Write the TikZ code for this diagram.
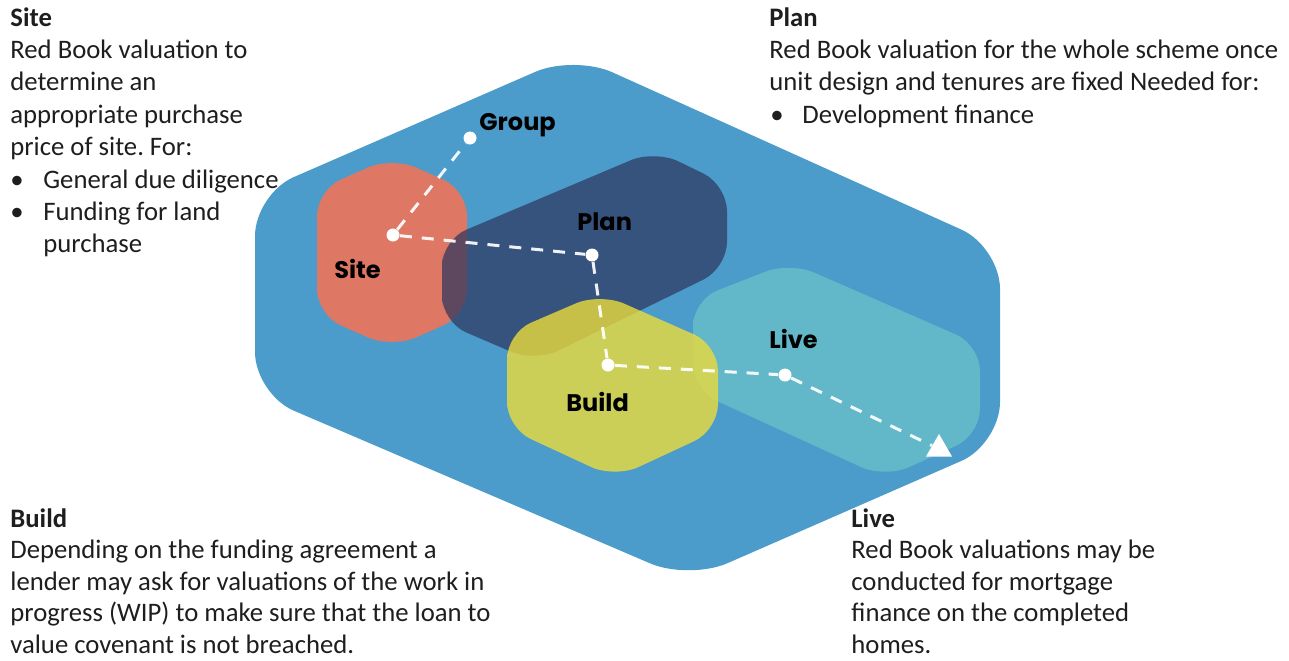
\documentclass[tikz,border=0pt]{standalone}
\usepackage{fontspec}
\setmainfont{Carlito}
\newfontfamily\lblfont{Poppins}
\usetikzlibrary{shapes.geometric}
\definecolor{hexblue}{RGB}{75,156,202}
\definecolor{sitecol}{RGB}{222,119,100}
\definecolor{plancol}{RGB}{45,55,95}
\definecolor{buildcol}{RGB}{235,220,60}
\definecolor{livecol}{RGB}{98,184,200}
\definecolor{textgray}{RGB}{30,30,30}
\frenchspacing
\begin{document}
\begin{tikzpicture}[x=0.5pt,y=-0.5pt,
  dotnode/.style={circle,fill=white,inner sep=0pt,minimum size=6.5pt},
  flow/.style={draw=white,line width=1.5pt,dash pattern=on 6pt off 5pt,opacity=0.92},
  stage/.style={font=\lblfont\bfseries\fontsize{12}{14}\selectfont,anchor=base west,inner sep=0pt,text=black},
  desc/.style={anchor=base west,inner sep=0pt,font=\fontsize{13.35}{16.2}\selectfont,text=textgray},
  descb/.style={anchor=base west,inner sep=0pt,font=\fontsize{13.35}{15.8}\selectfont,text=textgray},
  innerhex/.style={rounded corners=13pt}]
\useasboundingbox (0,0) rectangle (1289,660);
% big hexagon
\fill[hexblue,rounded corners=21pt] (255,294) -- (255,194) -- (574,55) -- (1000,247) -- (1000,444) -- (689,580) -- (255,394) -- cycle;
% site
\fill[sitecol,innerhex] (317,250) -- (317,190) -- (392,157) -- (467,190) -- (467,315) -- (392,348) -- (317,315) -- cycle;
% plan
\fill[plancol,innerhex,opacity=0.72] (442,280) -- (442,240) -- (655,150) -- (727,185) -- (727,268) -- (535,362) -- (442,322) -- cycle;
% live
\fill[livecol,innerhex] (693,345) -- (693,300) -- (790,262) -- (980,345) -- (980,435) -- (885,478) -- (693,390) -- cycle;
% build
\fill[buildcol,innerhex,opacity=0.8] (507,380) -- (507,333) -- (600,293) -- (718,345) -- (718,430) -- (615,478) -- (507,428) -- cycle;
% labels
\node[stage] (lgroup) at (479,130) {Group};
\node[stage] (lsite) at (334,278) {Site};
\node[stage] (lplan) at (577,230) {Plan};
\node[stage] (lbuild) at (566,411) {Build};
\node[stage] (llive) at (769,348) {Live};
% dots
\node[dotnode] (dgroup) at (470,138) {};
\node[dotnode] (dsite) at (393,235) {};
\node[dotnode] (dplan) at (592,255) {};
\node[dotnode] (dbuild) at (608,365) {};
\node[dotnode] (dlive) at (785,375) {};
\node[regular polygon,regular polygon sides=3,fill=white,inner sep=0pt,minimum size=15pt] (tri) at (939,449) {};
% connectors
\draw[flow] (dsite) -- (dgroup);
\draw[flow] (dsite) -- (dplan);
\draw[flow] (dplan) -- (dbuild);
\draw[flow] (dbuild) -- (dlive);
\draw[flow] (dlive) -- (tri);
% descriptions
\node[desc] (tsite) at (10,26) {\parbox[t]{300pt}{\textbf{Site}\\Red Book valuation to\\determine an\\appropriate purchase\\price of site. For:\\\makebox[16.5pt][l]{•}General due diligence\\\makebox[16.5pt][l]{•}Funding for land\\\hspace*{16.5pt}purchase}};
\node[desc] (tplan) at (769,26) {\parbox[t]{300pt}{\textbf{Plan}\\Red Book valuation for the whole scheme once\\unit design and tenures are fixed Needed for:\\\hspace*{0.5pt}\makebox[16pt][l]{•}Development finance}};
\node[descb] (tbuild) at (10,527) {\parbox[t]{300pt}{\textbf{Build}\\Depending on the funding agreement a\\lender may ask for valuations of the work in\\progress (WIP) to make sure that the loan to\\value covenant is not breached.}};
\node[descb] (tlive) at (851,527) {\parbox[t]{300pt}{\textbf{Live}\\Red Book valuations may be\\conducted for mortgage\\finance on the completed\\homes.}};
\end{tikzpicture}
\end{document}
